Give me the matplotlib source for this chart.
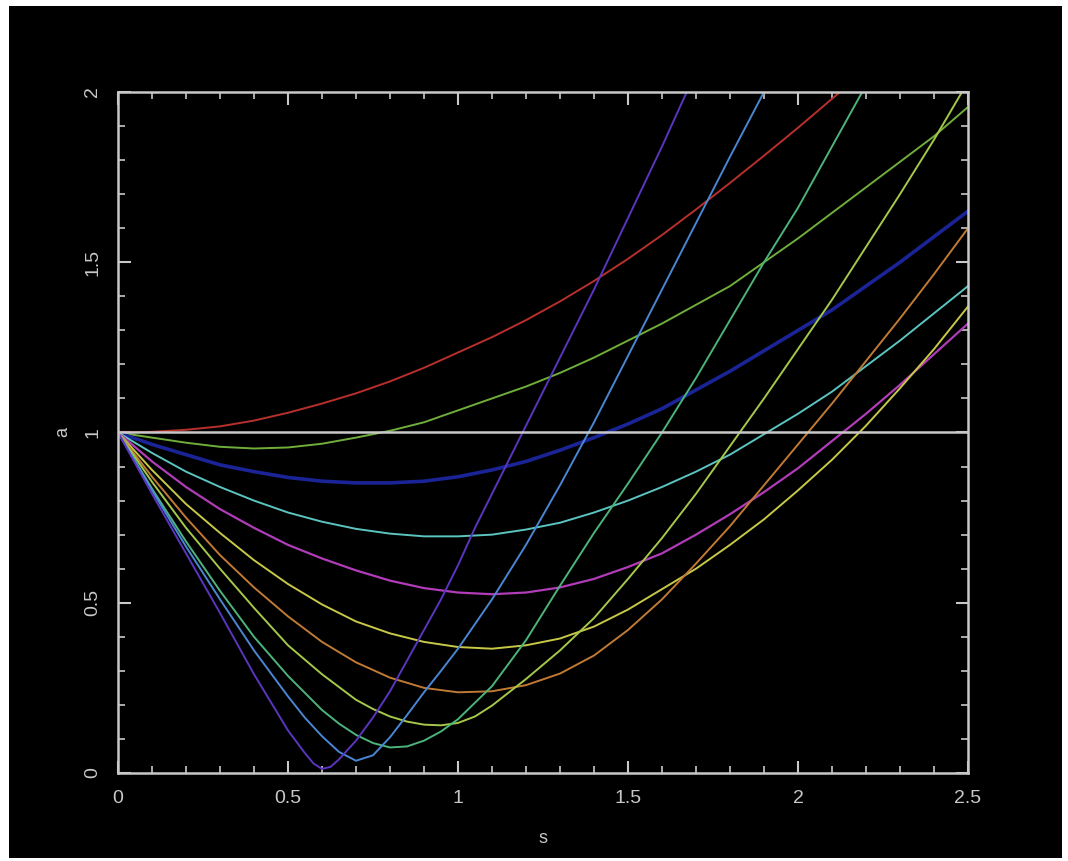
import matplotlib.pyplot as plt
from matplotlib.patches import Rectangle
from matplotlib.ticker import MultipleLocator
import numpy as np

# s grid shared by several curves
s_grid = [0.0, 0.1, 0.2, 0.3, 0.4, 0.5, 0.6, 0.7, 0.8, 0.9, 1.0, 1.1, 1.2,
          1.3, 1.4, 1.5, 1.6, 1.7, 1.8, 1.9, 2.0, 2.1, 2.2, 2.3, 2.4, 2.5]

s_red = s_grid[:23]
a_red = [1.0, 1.002, 1.008, 1.018, 1.035, 1.058, 1.085, 1.115, 1.15, 1.19, 1.235, 1.28, 1.33,
         1.385, 1.445, 1.51, 1.58, 1.655, 1.733, 1.813, 1.895, 1.98, 2.065]

a_lightgreen = [1.0, 0.985, 0.97, 0.958, 0.953, 0.956, 0.967, 0.985, 1.005, 1.03, 1.065, 1.10, 1.135,
                1.175, 1.22, 1.27, 1.32, 1.375, 1.43, 1.50, 1.57, 1.645, 1.72, 1.795, 1.87, 1.956]
a_navy = [1.0, 0.965, 0.935, 0.905, 0.885, 0.868, 0.857, 0.852, 0.852, 0.857, 0.87, 0.89, 0.915,
          0.948, 0.985, 1.025, 1.07, 1.125, 1.18, 1.24, 1.30, 1.36, 1.43, 1.50, 1.575, 1.65]
a_cyan = [1.0, 0.94, 0.885, 0.84, 0.80, 0.765, 0.738, 0.717, 0.703, 0.695, 0.695, 0.70, 0.715,
          0.735, 0.765, 0.80, 0.84, 0.885, 0.935, 0.995, 1.055, 1.12, 1.195, 1.27, 1.35, 1.43]
a_magenta = [1.0, 0.915, 0.84, 0.775, 0.72, 0.67, 0.63, 0.595, 0.565, 0.543, 0.53, 0.525, 0.53,
             0.545, 0.57, 0.605, 0.645, 0.70, 0.76, 0.825, 0.895, 0.975, 1.055, 1.14, 1.23, 1.32]
a_yellow = [1.0, 0.89, 0.79, 0.705, 0.625, 0.555, 0.495, 0.445, 0.41, 0.385, 0.37, 0.365, 0.375,
            0.395, 0.43, 0.48, 0.54, 0.60, 0.67, 0.745, 0.83, 0.92, 1.02, 1.13, 1.245, 1.37]
a_orange = [1.0, 0.87, 0.75, 0.64, 0.545, 0.46, 0.385, 0.325, 0.28, 0.25, 0.237, 0.24, 0.258,
            0.292, 0.345, 0.42, 0.51, 0.615, 0.725, 0.845, 0.965, 1.085, 1.21, 1.335, 1.465, 1.60]

s_yellowgreen = [0.0, 0.1, 0.2, 0.3, 0.4, 0.5, 0.6, 0.7, 0.75, 0.8, 0.85, 0.9, 0.95, 1.0, 1.05,
                 1.1, 1.2, 1.3, 1.4, 1.5, 1.6, 1.7, 1.8, 1.9, 2.0, 2.1, 2.2, 2.3, 2.4, 2.5]
a_yellowgreen = [1.0, 0.855, 0.72, 0.6, 0.485, 0.375, 0.29, 0.215, 0.188, 0.166, 0.151, 0.142, 0.14,
                 0.147, 0.166, 0.198, 0.276, 0.36, 0.455, 0.57, 0.69, 0.82, 0.96, 1.1, 1.245, 1.39,
                 1.545, 1.70, 1.86, 2.03]

s_green = [0.0, 0.1, 0.2, 0.3, 0.4, 0.5, 0.6, 0.65, 0.7, 0.75, 0.8, 0.85, 0.9, 0.95, 1.0,
           1.1, 1.2, 1.3, 1.4, 1.5, 1.6, 1.7, 1.8, 1.9, 2.0, 2.1, 2.2]
a_green = [1.0, 0.835, 0.68, 0.535, 0.40, 0.285, 0.185, 0.145, 0.112, 0.088, 0.075, 0.078, 0.095,
           0.122, 0.158, 0.255, 0.39, 0.55, 0.705, 0.85, 1.0, 1.16, 1.33, 1.50, 1.66, 1.84, 2.02]

s_lightblue = [0.0, 0.1, 0.2, 0.3, 0.4, 0.5, 0.55, 0.6, 0.65, 0.7, 0.75, 0.8, 0.85, 0.9, 0.95,
               1.0, 1.1, 1.2, 1.3, 1.4, 1.5, 1.6, 1.7, 1.8, 1.9, 2.0]
a_lightblue = [1.0, 0.83, 0.665, 0.51, 0.36, 0.225, 0.162, 0.108, 0.062, 0.036, 0.052, 0.105, 0.17,
               0.237, 0.30, 0.365, 0.51, 0.67, 0.845, 1.03, 1.225, 1.42, 1.615, 1.81, 2.0, 2.2]

s_purple = [0.0, 0.1, 0.2, 0.3, 0.4, 0.5, 0.55, 0.575, 0.6, 0.625, 0.65, 0.7, 0.75, 0.8, 0.85, 0.9,
            0.95, 1.0, 1.05, 1.1, 1.15, 1.2, 1.3, 1.4, 1.5, 1.6, 1.7]
a_purple = [1.0, 0.82, 0.645, 0.47, 0.29, 0.125, 0.058, 0.028, 0.012, 0.018, 0.04, 0.095, 0.163,
            0.24, 0.33, 0.42, 0.51, 0.61, 0.72, 0.82, 0.92, 1.02, 1.22, 1.42, 1.63, 1.84, 2.06]

curves = [
    (s_red, a_red, '#b8302c', 1.4),
    (s_grid, a_lightgreen, '#6fae3a', 1.4),
    (s_grid, a_navy, '#1a2496', 2.6),
    (s_grid, a_cyan, '#5cc4c0', 1.4),
    (s_grid, a_magenta, '#b03cb8', 1.6),
    (s_grid, a_yellow, '#c8c848', 1.4),
    (s_grid, a_orange, '#c07a34', 1.4),
    (s_yellowgreen, a_yellowgreen, '#a6c84a', 1.4),
    (s_green, a_green, '#4cb47a', 1.4),
    (s_lightblue, a_lightblue, '#4a86d2', 1.4),
    (s_purple, a_purple, '#5a36c0', 1.4),
]

grey = '#c8c8c8'
plt.rcParams['font.family'] = ['Liberation Sans', 'DejaVu Sans']

fig = plt.figure(figsize=(10.68, 8.61), dpi=100)
fig.patch.set_facecolor('white')
# black panel behind the plot, thin white margin around it
fig.patches.append(Rectangle((9 / 1068, 3 / 861), 1053 / 1068, 852 / 861,
                             transform=fig.transFigure, facecolor='black',
                             edgecolor='none', zorder=-10))

ax = fig.add_axes([118 / 1068, 1 - 773 / 861, 850 / 1068, 681 / 861])
ax.set_facecolor('black')

for s, a, col, lw in curves:
    ax.plot(s, a, color=col, lw=lw, solid_joinstyle='round')

ax.axhline(1.0, color=grey, lw=1.8)

ax.set_xlim(0, 2.5)
ax.set_ylim(0, 2)
ax.xaxis.set_major_locator(MultipleLocator(0.5))
ax.xaxis.set_minor_locator(MultipleLocator(0.1))
ax.yaxis.set_major_locator(MultipleLocator(0.5))
ax.yaxis.set_minor_locator(MultipleLocator(0.1))
ax.xaxis.set_major_formatter(plt.FuncFormatter(lambda v, p: '{0:g}'.format(v)))
ax.yaxis.set_major_formatter(plt.FuncFormatter(lambda v, p: '{0:g}'.format(v)))

for sp in ax.spines.values():
    sp.set_color(grey)
    sp.set_linewidth(1.8)

ax.tick_params(which='both', direction='in', top=True, right=True, colors=grey,
               labelcolor=grey, labelsize=14)
ax.tick_params(which='major', length=9, width=1.5, pad=12)
ax.tick_params(which='minor', length=5, width=1.2)
for lab in ax.get_yticklabels():
    lab.set_rotation(90)
    lab.set_va('center')

ax.set_xlabel('s', color=grey, fontsize=13, va='center')
ax.xaxis.set_label_coords(0.5, -0.0955)
ax.set_ylabel('a', color=grey, fontsize=13, va='center', ha='center')
ax.yaxis.set_label_coords(-0.0647, 0.5)

plt.savefig('out.png', dpi=100, facecolor=fig.get_facecolor())
